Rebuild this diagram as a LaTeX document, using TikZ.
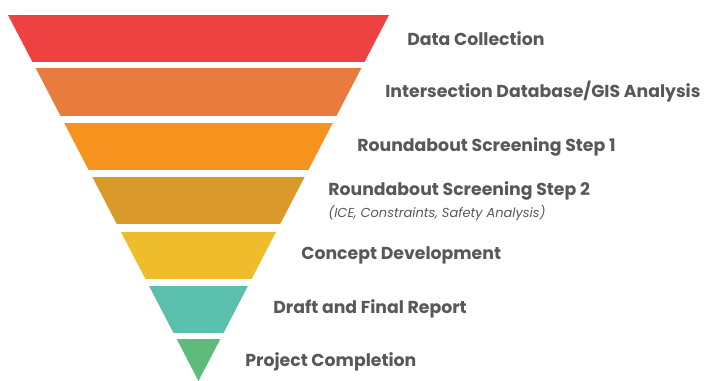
\documentclass[tikz,border=0pt]{standalone}
\usepackage{fontspec}
\setmainfont{Poppins}
\usepackage{tikz}

\definecolor{bandA}{HTML}{EE4242}
\definecolor{bandB}{HTML}{EA7B3E}
\definecolor{bandC}{HTML}{F5931E}
\definecolor{bandD}{HTML}{D99A2B}
\definecolor{bandE}{HTML}{EFBC2C}
\definecolor{bandF}{HTML}{5BBFAE}
\definecolor{bandG}{HTML}{5EBB79}
\definecolor{labelgray}{HTML}{58585A}

\tikzset{
  steplabel/.style={anchor=west,inner sep=0pt,text=labelgray,font=\bfseries\fontsize{9.85}{11}\selectfont},
  stepnote/.style={anchor=west,inner sep=0pt,text=labelgray,font=\itshape\fontsize{7.4}{9}\selectfont}
}

\begin{document}
\begin{tikzpicture}[x=0.02cm,y=-0.02cm]
\useasboundingbox (0,0) rectangle (707,381);
% funnel, cut into bands
\begin{scope}
\clip (8,15) -- (389,15) -- (198.5,381) -- cycle;
\fill[bandA] (0,15) rectangle (400,62);
\fill[bandB] (0,68) rectangle (400,116);
\fill[bandC] (0,123) rectangle (400,170);
\fill[bandD] (0,177) rectangle (400,224);
\fill[bandE] (0,232) rectangle (400,279);
\fill[bandF] (0,286) rectangle (400,333);
\fill[bandG] (0,339) rectangle (400,381);
\end{scope}
% labels
\node[steplabel] (dataCol) at (407,39) {Data Collection};
\node[steplabel] (interDb) at (385,92) {Intersection Database/GIS Analysis};
\node[steplabel] (screenA) at (357,147) {Roundabout Screening Step 1};
\node[steplabel] (screenB) at (328,191) {Roundabout Screening Step 2};
\node[stepnote] (screenNote) at (328,213) {(ICE, Constraints, Safety Analysis)};
\node[steplabel] (concept) at (301,255) {Concept Development};
\node[steplabel] (report) at (273,309) {Draft and Final Report};
\node[steplabel] (finish) at (245,362) {Project Completion};
\end{tikzpicture}
\end{document}
